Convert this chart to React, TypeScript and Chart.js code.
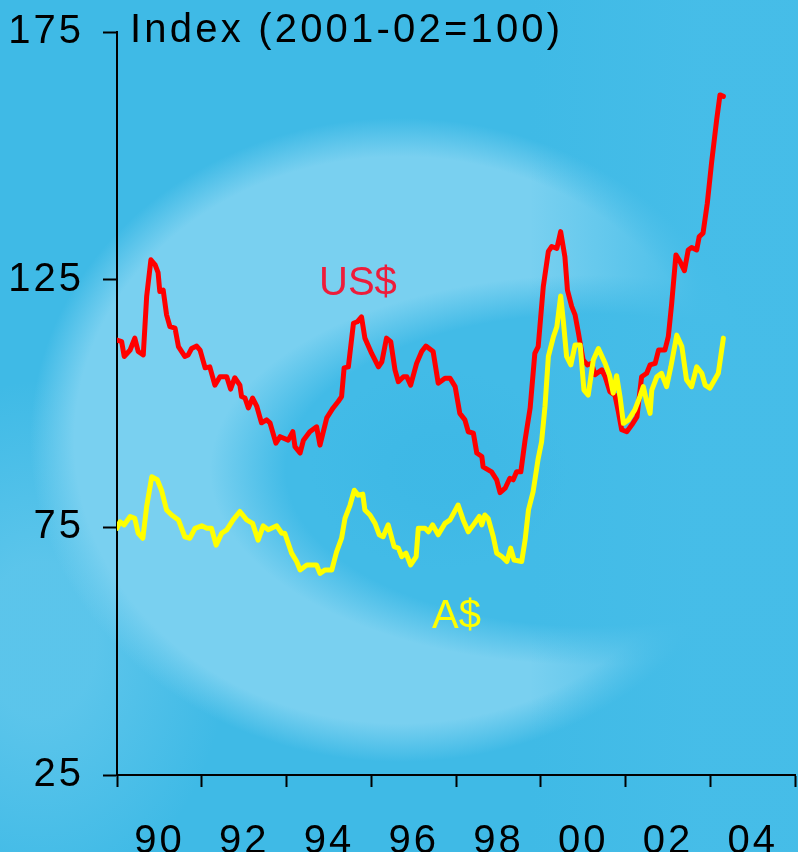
import { useEffect, useRef } from "react";
import { Chart, registerables } from "chart.js";

Chart.register(...registerables);

const FONT = '"Liberation Sans", Arial, sans-serif';
const TITLE = "Index (2001-02=100)";
const X_MIN = 1989;
const X_MAX = 2005;
const Y_MIN = 25;
const Y_MAX = 175;
const Y_STEP = 50;

const usLabel = "US$";
const audLabel = "A$";

const usYears = [
  1989.0, 1989.11, 1989.17, 1989.31, 1989.42, 1989.5, 1989.62, 1989.7, 1989.8, 1989.9,
  1989.97, 1990.01, 1990.09, 1990.17, 1990.25, 1990.37, 1990.45, 1990.6, 1990.68, 1990.76,
  1990.88, 1990.96, 1991.08, 1991.19, 1991.31, 1991.43, 1991.59, 1991.68, 1991.78, 1991.9,
  1991.94, 1992.02, 1992.1, 1992.2, 1992.3, 1992.41, 1992.53, 1992.61, 1992.75, 1992.85,
  1993.04, 1993.15, 1993.2, 1993.32, 1993.4, 1993.55, 1993.71, 1993.79, 1993.95, 1994.1,
  1994.22, 1994.3, 1994.36, 1994.46, 1994.58, 1994.67, 1994.77, 1994.85, 1995.01, 1995.17,
  1995.25, 1995.36, 1995.46, 1995.56, 1995.64, 1995.76, 1995.84, 1995.93, 1996.07, 1996.19,
  1996.29, 1996.46, 1996.58, 1996.74, 1996.86, 1996.98, 1997.09, 1997.21, 1997.29, 1997.41,
  1997.49, 1997.61, 1997.64, 1997.84, 1997.96, 1998.04, 1998.16, 1998.27, 1998.35, 1998.43,
  1998.53, 1998.63, 1998.75, 1998.86, 1998.94, 1999.06, 1999.18, 1999.26, 1999.38, 1999.47,
  1999.57, 1999.63, 1999.73, 1999.81, 1999.89, 1999.93, 2000.0, 2000.1, 2000.2, 2000.28,
  2000.44, 2000.52, 2000.63, 2000.75, 2000.83, 2000.91, 2001.03, 2001.15, 2001.27, 2001.38,
  2001.5, 2001.58, 2001.7, 2001.78, 2001.93, 2002.01, 2002.09, 2002.19, 2002.29, 2002.39,
  2002.48, 2002.56, 2002.68, 2002.74, 2002.83, 2002.93, 2003.03, 2003.15, 2003.23, 2003.31,
];
const usIndex = [
  112.8, 112.5, 109.5, 110.8, 113.2, 110.5, 109.8, 121.6, 129.0, 128.0,
  126.4, 122.6, 122.9, 117.9, 115.5, 115.2, 111.5, 109.5, 109.8, 111.1,
  111.6, 110.8, 107.2, 107.4, 103.7, 105.4, 105.4, 102.9, 105.2, 103.7,
  101.4, 101.1, 99.1, 101.1, 99.4, 96.1, 96.7, 96.1, 92.0, 93.3,
  92.6, 94.3, 91.3, 90.0, 92.6, 94.3, 95.3, 91.6, 97.1, 99.1,
  100.4, 101.4, 107.2, 107.4, 116.2, 116.5, 117.5, 113.2, 110.1, 107.4,
  108.4, 113.2, 112.5, 106.8, 104.4, 105.4, 105.4, 103.7, 108.1, 110.5,
  111.6, 110.5, 104.1, 105.1, 105.1, 103.4, 98.0, 96.7, 94.3, 94.0,
  90.0, 89.3, 87.2, 86.2, 84.6, 82.0, 82.9, 84.9, 84.6, 86.2,
  86.2, 92.6, 99.1, 110.1, 111.5, 123.6, 130.7, 131.7, 131.3, 134.7,
  129.6, 122.9, 119.6, 117.9, 114.2, 112.2, 108.8, 107.8, 108.1, 105.8,
  106.8, 105.4, 102.4, 101.7, 98.4, 94.7, 94.3, 95.7, 97.3, 105.4,
  106.1, 107.8, 108.1, 110.8, 110.8, 113.5, 120.2, 130.0, 128.6, 126.8,
  131.0, 131.5, 131.0, 133.7, 134.4, 140.4, 148.5, 157.2, 162.3, 162.0,
];

const audYears = [
  1989.0, 1989.07, 1989.17, 1989.31, 1989.42, 1989.5, 1989.61, 1989.7, 1989.82, 1989.95,
  1990.05, 1990.17, 1990.29, 1990.45, 1990.6, 1990.72, 1990.84, 1991.0, 1991.12, 1991.23,
  1991.34, 1991.47, 1991.59, 1991.74, 1991.9, 1992.06, 1992.2, 1992.33, 1992.45, 1992.57,
  1992.77, 1992.89, 1992.96, 1993.12, 1993.24, 1993.32, 1993.48, 1993.71, 1993.79, 1993.91,
  1994.07, 1994.18, 1994.3, 1994.38, 1994.5, 1994.6, 1994.69, 1994.8, 1994.85, 1994.97,
  1995.09, 1995.19, 1995.28, 1995.4, 1995.54, 1995.64, 1995.72, 1995.82, 1995.93, 1996.06,
  1996.11, 1996.27, 1996.35, 1996.45, 1996.58, 1996.74, 1996.86, 1997.05, 1997.17, 1997.29,
  1997.41, 1997.55, 1997.61, 1997.68, 1997.76, 1997.88, 1997.96, 1998.08, 1998.2, 1998.29,
  1998.37, 1998.55, 1998.63, 1998.71, 1998.82, 1998.94, 1999.02, 1999.1, 1999.18, 1999.3,
  1999.38, 1999.47, 1999.53, 1999.61, 1999.71, 1999.81, 1999.93, 2000.02, 2000.12, 2000.24,
  2000.36, 2000.52, 2000.62, 2000.71, 2000.79, 2000.87, 2000.95, 2001.07, 2001.22, 2001.34,
  2001.42, 2001.5, 2001.58, 2001.62, 2001.74, 2001.85, 2001.97, 2002.07, 2002.21, 2002.33,
  2002.44, 2002.56, 2002.68, 2002.8, 2002.88, 2002.99, 2003.19, 2003.31,
];
const audIndex = [
  74.8, 76.1, 75.5, 77.2, 76.8, 73.8, 72.8, 79.2, 85.2, 84.6,
  82.5, 78.5, 77.5, 76.5, 73.1, 72.8, 74.8, 75.3, 74.8, 74.8,
  71.4, 73.8, 74.5, 76.5, 78.2, 76.5, 75.8, 72.4, 75.3, 74.5,
  75.3, 73.8, 73.8, 69.8, 68.1, 66.4, 67.4, 67.4, 65.7, 66.4,
  66.4, 70.0, 72.8, 76.8, 79.5, 82.5, 81.5, 81.7, 78.5, 77.5,
  75.8, 73.5, 73.1, 75.5, 71.1, 70.8, 69.1, 69.8, 67.4, 69.1,
  74.8, 74.8, 74.1, 75.5, 73.5, 75.8, 76.5, 79.5, 76.5, 74.1,
  75.5, 77.2, 75.5, 77.5, 76.8, 73.1, 69.8, 69.1, 68.1, 70.8,
  68.4, 68.1, 72.4, 78.5, 82.2, 88.9, 92.3, 99.4, 109.5, 113.5,
  115.5, 121.7, 116.9, 109.5, 107.8, 111.8, 111.8, 102.7, 101.7, 108.8,
  111.1, 108.1, 105.8, 102.1, 105.6, 101.4, 96.0, 96.7, 98.7, 101.4,
  103.4, 100.4, 98.0, 102.7, 105.4, 106.1, 103.4, 107.4, 113.8, 111.5,
  104.8, 103.4, 107.4, 106.1, 103.7, 103.1, 106.1, 113.2,
];

function glow(
  ctx: CanvasRenderingContext2D,
  cx: number,
  cy: number,
  rx: number,
  ry: number,
  rgb: string,
  alpha: number,
  solid: number
) {
  ctx.save();
  ctx.translate(cx, cy);
  ctx.scale(rx, ry);
  const g = ctx.createRadialGradient(0, 0, 0, 0, 0, 1);
  g.addColorStop(0, `rgba(${rgb},${alpha})`);
  g.addColorStop(solid, `rgba(${rgb},${alpha})`);
  g.addColorStop(1, `rgba(${rgb},0)`);
  ctx.fillStyle = g;
  ctx.fillRect(-1, -1, 2, 2);
  ctx.restore();
}

const backgroundPlugin = {
  id: "swirlBackground",
  beforeDraw(chart: any) {
    const { ctx, width, height } = chart;
    ctx.save();
    ctx.fillStyle = "#3fbae6";
    ctx.fillRect(0, 0, width, height);
    glow(ctx, 40, 640, 190, 260, "110,204,238", 0.6, 0.3);
    glow(ctx, 400, 440, 370, 322, "121,208,240", 1, 0.88);
    glow(ctx, 590, 470, 380, 195, "66,187,231", 1, 0.8);
    glow(ctx, 440, 470, 130, 100, "60,183,229", 0.6, 0.3);
    const lg = ctx.createLinearGradient(530, 0, 700, 0);
    lg.addColorStop(0, "rgba(70,189,232,0)");
    lg.addColorStop(1, "rgba(70,189,232,0.95)");
    ctx.fillStyle = lg;
    ctx.fillRect(530, 0, width - 530, height);
    ctx.restore();
    ctx.letterSpacing = "3px";
  },
  afterDraw(chart: any) {
    const { ctx } = chart;
    ctx.save();
    ctx.letterSpacing = "3.2px";
    ctx.font = `40px ${FONT}`;
    ctx.textAlign = "left";
    ctx.textBaseline = "alphabetic";
    ctx.fillStyle = "#000000";
    ctx.fillText(TITLE, 130, 42);
    ctx.letterSpacing = "0px";
    ctx.fillStyle = "#ee1c3a";
    ctx.fillText(usLabel, 319, 295);
    ctx.fillStyle = "#ffff00";
    ctx.fillText(audLabel, 432, 628);
    ctx.restore();
    ctx.letterSpacing = "0px";
  },
};

export default function App() {
  const ref = useRef<HTMLCanvasElement | null>(null);

  useEffect(() => {
    if (!ref.current) return;
    const chart = new Chart(ref.current, {
      type: "line",
      data: {
        datasets: [
          {
            label: audLabel,
            data: audYears.map((x, i) => ({ x, y: audIndex[i] })),
            borderColor: "#ffff00",
            borderWidth: 5,
            pointRadius: 0,
            tension: 0,
            borderJoinStyle: "round",
            borderCapStyle: "round",
            fill: false,
          },
          {
            label: usLabel,
            data: usYears.map((x, i) => ({ x, y: usIndex[i] })),
            borderColor: "#ff0000",
            borderWidth: 5,
            pointRadius: 0,
            tension: 0,
            borderJoinStyle: "round",
            borderCapStyle: "round",
            fill: false,
          },
        ],
      },
      options: {
        animation: false,
        responsive: false,
        devicePixelRatio: 1,
        layout: { padding: { top: 32, right: 3, left: 0, bottom: 0 } },
        plugins: {
          legend: { display: false },
          tooltip: { enabled: false },
          title: { display: false },
        },
        scales: {
          x: {
            type: "linear",
            min: X_MIN,
            max: X_MAX,
            afterFit: (s: any) => {
              s.height = 77;
              s.paddingLeft = 0;
              s.paddingRight = 0;
            },
            ticks: {
              stepSize: 1,
              autoSkip: false,
              maxRotation: 0,
              minRotation: 0,
              color: "#000000",
              padding: 31,
              font: { family: FONT, size: 40 },
              callback: (v: any) =>
                Number(v) % 2 === 0 ? String(Number(v) % 100).padStart(2, "0") : "",
            },
            grid: {
              drawOnChartArea: false,
              drawTicks: true,
              tickLength: 12,
              tickWidth: 2,
              color: (c: any) =>
                c.tick && Math.round(c.tick.value) % 2 === 1 ? "#000000" : "rgba(0,0,0,0)",
            },
            border: { display: true, color: "#000000", width: 2 },
          },
          y: {
            type: "linear",
            min: Y_MIN,
            max: Y_MAX,
            afterFit: (s: any) => {
              s.width = 117;
              s.paddingTop = 0;
              s.paddingBottom = 0;
            },
            ticks: {
              stepSize: Y_STEP,
              color: "#000000",
              padding: 19,
              font: { family: FONT, size: 40 },
            },
            grid: {
              drawOnChartArea: false,
              drawTicks: true,
              tickLength: 14,
              tickWidth: 2,
              color: "#000000",
            },
            border: { display: true, color: "#000000", width: 2 },
          },
        },
      },
      plugins: [backgroundPlugin],
    } as any);
    return () => chart.destroy();
  }, []);

  return (
    <div style={{ position: "fixed", left: 0, top: 0, width: 798, height: 852, overflow: "hidden" }}>
      <canvas ref={ref} width={798} height={852} style={{ display: "block" }} />
    </div>
  );
}
